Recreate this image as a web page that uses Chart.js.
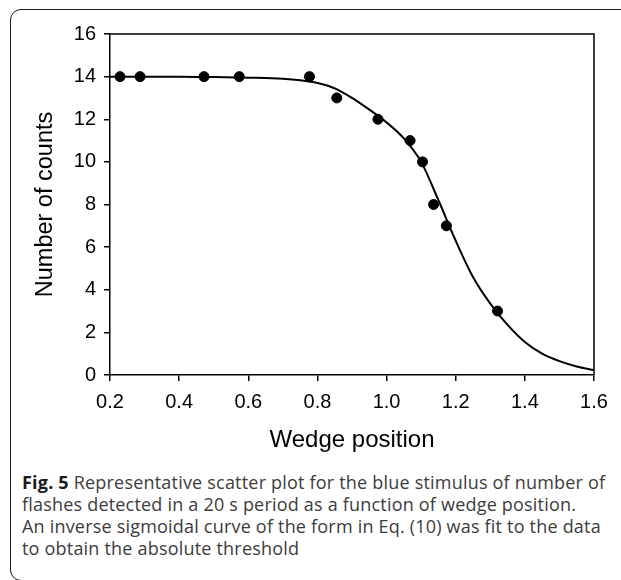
<!DOCTYPE html>
<html>
<head>
<meta charset="utf-8">
<script src="https://cdn.jsdelivr.net/npm/chart.js@4"></script>
<style>
  html, body { margin: 0; padding: 0; background: #fff; overflow: hidden; }
  body { width: 621px; height: 580px; position: relative; }
  #frame {
    position: absolute; left: 10px; top: 9px; width: 700px; height: 572px;
    border: 1.5px solid #1a1a1a; border-radius: 11px; box-sizing: border-box;
  }
  #wrap { position: absolute; left: 0; top: 0; width: 621px; height: 460px; }
  #caption {
    position: absolute; left: 22px; top: 471px; white-space: nowrap;
    font-family: "Open Sans", sans-serif; font-size: 18px; letter-spacing: 0.2px;
    line-height: 22px; color: #3c3c3c;
  }
  #caption b { color: #1a1a1a; }
</style>
</head>
<body>
<div id="frame"></div>
<div id="wrap"><canvas id="myChart" width="621" height="460"></canvas></div>
<div id="caption"><b>Fig. 5</b> Representative scatter plot for the blue stimulus of number of<br>flashes detected in a 20 s period as a function of wedge position.<br>An inverse sigmoidal curve of the form in Eq. (10) was fit to the data<br>to obtain the absolute threshold</div>
<script>
// measured points
const wedgeX = [0.229, 0.287, 0.472, 0.574, 0.777, 0.856, 0.975, 1.068, 1.104, 1.136, 1.173, 1.321];
const counts = [14, 14, 14, 14, 14, 13, 12, 11, 10, 8, 7, 3];

// fitted curve
const fitX = [0.2, 0.3, 0.4, 0.5, 0.6, 0.7, 0.75, 0.8, 0.85, 0.9, 0.95, 1.0, 1.05, 1.1, 1.15, 1.2, 1.25, 1.3, 1.35, 1.4, 1.45, 1.5, 1.55, 1.6];
const fitY = [14.0, 14.0, 14.0, 13.98, 13.95, 13.9, 13.83, 13.7, 13.45, 13.0, 12.45, 11.85, 11.1, 10.0, 8.2, 6.3, 4.6, 3.35, 2.35, 1.55, 1.0, 0.65, 0.4, 0.23];

const xTicks = [0.2, 0.4, 0.6, 0.8, 1.0, 1.2, 1.4, 1.6];
const yTicks = [0, 2, 4, 6, 8, 10, 12, 14, 16];

const fontFam = '"Liberation Sans", Arial, sans-serif';

const boxPlugin = {
  id: 'box',
  afterDraw(chart) {
    const { ctx, chartArea: a } = chart;
    ctx.save();
    ctx.strokeStyle = '#000';
    ctx.lineWidth = 1.5;
    ctx.beginPath();
    ctx.moveTo(a.left, a.top);
    ctx.lineTo(a.right, a.top);
    ctx.lineTo(a.right, a.bottom);
    ctx.stroke();
    ctx.restore();
  }
};

new Chart(document.getElementById('myChart'), {
  type: 'scatter',
  data: {
    datasets: [
      {
        label: 'Counts',
        data: wedgeX.map((x, i) => ({ x: x, y: counts[i] })),
        backgroundColor: '#000',
        borderColor: '#000',
        pointRadius: 5,
        pointHoverRadius: 5
      },
      {
        label: 'Fit',
        type: 'line',
        data: fitX.map((x, i) => ({ x: x, y: fitY[i] })),
        borderColor: '#000',
        borderWidth: 2,
        pointRadius: 0,
        cubicInterpolationMode: 'monotone',
        fill: false
      }
    ]
  },
  options: {
    responsive: false,
    animation: false,
    layout: { padding: { top: 34, right: 27, left: 0, bottom: 0 } },
    plugins: {
      legend: { display: false },
      tooltip: { enabled: false }
    },
    scales: {
      x: {
        type: 'linear',
        min: 0.2,
        max: 1.6,
        afterFit(s) { s.height = 85; },
        afterBuildTicks(s) { s.ticks = xTicks.map(v => ({ value: v })); },
        ticks: {
          color: '#000',
          padding: 9,
          font: { family: fontFam, size: 20 },
          callback: v => v.toFixed(1)
        },
        grid: { drawOnChartArea: false, drawTicks: true, tickLength: 6, color: '#000', lineWidth: 1.5 },
        border: { display: true, color: '#000', width: 1.5 },
        title: {
          display: true,
          text: 'Wedge position',
          color: '#000',
          font: { family: fontFam, size: 24 },
          padding: { top: 0, bottom: 5 }
        }
      },
      y: {
        min: 0,
        max: 16,
        afterFit(s) { s.width = 110; },
        afterBuildTicks(s) { s.ticks = yTicks.map(v => ({ value: v })); },
        ticks: {
          color: '#000',
          padding: 8,
          font: { family: fontFam, size: 20 }
        },
        grid: { drawOnChartArea: false, drawTicks: true, tickLength: 6, color: '#000', lineWidth: 1.5 },
        border: { display: true, color: '#000', width: 1.5 },
        title: {
          display: true,
          text: 'Number of counts',
          color: '#000',
          font: { family: fontFam, size: 23.5 },
          padding: { top: 31, bottom: 0 }
        }
      }
    }
  },
  plugins: [boxPlugin]
});
</script>
</body>
</html>
